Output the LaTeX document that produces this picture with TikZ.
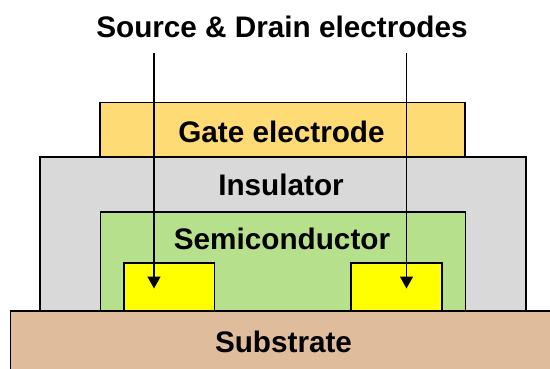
\documentclass[tikz,border=0pt]{standalone}
\usepackage{fontspec}
\setmainfont{Liberation Sans}
\usetikzlibrary{arrows.meta}
\definecolor{gatec}{HTML}{FFDB75}
\definecolor{insc}{HTML}{D9D9D9}
\definecolor{semic}{HTML}{B7E08C}
\definecolor{subc}{HTML}{DEBC9C}
\definecolor{elc}{HTML}{FFFF00}
\tikzset{layer/.style={draw=black,line width=1.2pt,inner sep=0pt,outer sep=0pt,anchor=north west},
lab/.style={font=\bfseries\fontsize{29.7}{32}\selectfont,inner sep=0pt,text=black},
conn/.style={draw=black,line width=1.4pt,-{Triangle[length=12pt,width=13pt]}}}
\begin{document}
\begin{tikzpicture}[x=1pt,y=-1pt]
\useasboundingbox (0,0) rectangle (550,369);
\node[layer,fill=gatec,minimum width=365pt,minimum height=55pt] (gate) at (100,102.5) {};
\node[layer,fill=insc,minimum width=486pt,minimum height=155pt] (ins) at (40,157) {};
\node[layer,fill=semic,minimum width=365pt,minimum height=100pt] (semi) at (100.5,212) {};
\node[layer,fill=elc,minimum width=90.5pt,minimum height=48pt] (el1) at (124,263) {};
\node[layer,fill=elc,minimum width=91pt,minimum height=48pt] (el2) at (351,263) {};
\fill[subc,draw=black,line width=1.2pt] (10.5,311) -- (551,311) -- (551,371) -- (10.5,371) -- cycle;
\node[lab] (t) at (282,27) {Source \& Drain electrodes};
\node[lab] (g) at (281.5,132) {Gate electrode};
\node[lab] (i) at (281,185) {Insulator};
\node[lab] (s) at (282,239) {Semiconductor};
\node[lab] (b) at (283.5,342) {Substrate};
\coordinate (a1) at (154,53);
\coordinate (a2) at (406.5,53);
\coordinate (e1) at (154,288.5);
\coordinate (e2) at (406.5,288.5);
\draw[conn] (a1) -- (e1);
\draw[conn] (a2) -- (e2);
\end{tikzpicture}
\end{document}
